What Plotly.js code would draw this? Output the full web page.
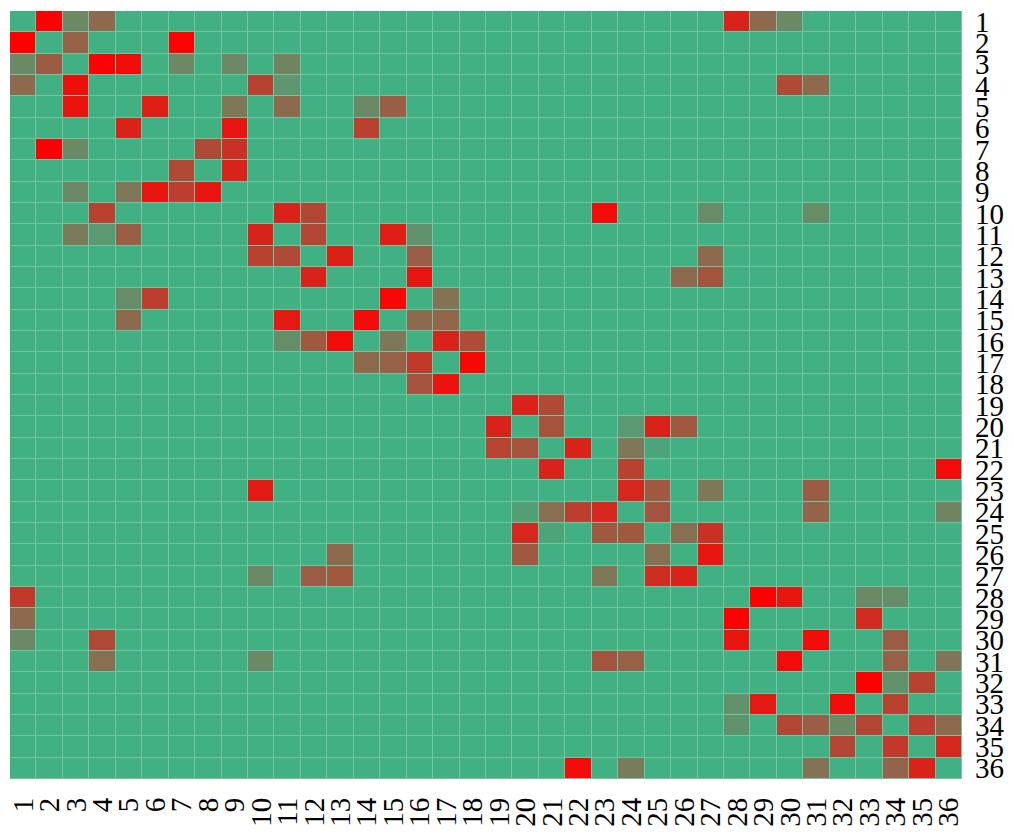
<!DOCTYPE html>
<html>
<head>
<meta charset="utf-8">
<script src="https://cdn.plot.ly/plotly-3.0.1.min.js"></script>
<style>html,body{margin:0;padding:0;background:#fff;}#chart{width:1014px;height:837px;}</style>
</head>
<body>
<div id="chart"></div>
<script>
// Node labels (rows and columns)
const labels = Array.from({length: 36}, (_, i) => String(i + 1));

// Non-zero cells: row label, column label, value (0..1)
const cellRow = [
  1,1,1,1,1,1,
  2,2,2,
  3,3,3,3,3,3,3,
  4,4,4,4,4,4,
  5,5,5,5,5,5,
  6,6,6,
  7,7,7,7,
  8,8,
  9,9,9,9,9,
  10,10,10,10,10,10,
  11,11,11,11,11,11,11,
  12,12,12,12,12,
  13,13,13,13,
  14,14,14,14,
  15,15,15,15,15,
  16,16,16,16,16,16,
  17,17,17,17,
  18,18,
  19,19,
  20,20,20,20,20,
  21,21,21,21,21,
  22,22,22,
  23,23,23,23,23,
  24,24,24,24,24,24,24,
  25,25,25,25,25,25,
  26,26,26,26,
  27,27,27,27,27,27,
  28,28,28,28,28,
  29,29,29,
  30,30,30,30,30,
  31,31,31,31,31,31,31,
  32,32,32,
  33,33,33,33,
  34,34,34,34,34,34,34,
  35,35,35,
  36,36,36,36,36
];
const cellCol = [
  2,3,4,28,29,30,
  1,3,7,
  1,2,4,5,7,9,11,
  1,3,10,11,30,31,
  3,6,9,11,14,15,
  5,9,14,
  2,3,8,9,
  7,9,
  3,5,6,7,8,
  4,11,12,23,27,31,
  3,4,5,10,12,15,16,
  10,11,13,16,27,
  12,16,26,27,
  5,6,15,17,
  5,11,14,16,17,
  11,12,13,15,17,18,
  14,15,16,18,
  16,17,
  20,21,
  19,21,24,25,26,
  19,20,22,24,25,
  21,24,36,
  10,24,25,27,31,
  20,21,22,23,25,31,36,
  20,21,23,24,26,27,
  13,20,25,27,
  10,12,13,23,25,26,
  1,29,30,33,34,
  1,28,33,
  1,4,28,31,34,
  4,10,23,24,30,34,36,
  33,34,35,
  28,29,32,34,
  28,30,31,32,33,35,36,
  32,34,36,
  22,24,31,34,35
];
const cellVal = [
  1.00,0.23,0.40,0.80,0.40,0.22,
  1.00,0.45,0.98,
  0.22,0.48,1.00,0.93,0.23,0.23,0.25,
  0.40,0.92,0.63,0.15,0.58,0.40,
  0.89,0.83,0.32,0.40,0.22,0.47,
  0.80,0.87,0.63,
  1.00,0.22,0.58,0.72,
  0.58,0.80,
  0.22,0.32,0.88,0.65,0.88,
  0.63,0.80,0.60,0.93,0.20,0.20,
  0.30,0.13,0.47,0.80,0.60,0.83,0.17,
  0.63,0.58,0.82,0.47,0.40,
  0.80,0.88,0.40,0.52,
  0.20,0.65,0.96,0.35,
  0.40,0.85,0.93,0.40,0.42,
  0.20,0.50,0.93,0.32,0.80,0.57,
  0.40,0.45,0.68,0.96,
  0.52,0.90,
  0.80,0.58,
  0.80,0.53,0.13,0.80,0.50,
  0.62,0.53,0.80,0.32,0.06,
  0.80,0.63,0.93,
  0.85,0.78,0.50,0.32,0.48,
  0.10,0.37,0.65,0.78,0.52,0.43,0.25,
  0.78,0.07,0.50,0.50,0.37,0.72,
  0.40,0.50,0.37,0.88,
  0.22,0.47,0.50,0.32,0.74,0.80,
  0.68,1.00,0.88,0.22,0.20,
  0.40,1.00,0.75,
  0.22,0.58,0.88,0.93,0.47,
  0.37,0.22,0.52,0.45,0.93,0.45,0.33,
  1.00,0.17,0.63,
  0.17,0.85,0.93,0.63,
  0.17,0.60,0.47,0.22,0.60,0.65,0.40,
  0.60,0.68,0.78,
  0.93,0.30,0.35,0.43,0.80
];

// Build the matrix (cells not listed are 0)
const z = labels.map(() => labels.map(() => 0));
for (let k = 0; k < cellVal.length; k++) {
  z[cellRow[k] - 1][cellCol[k] - 1] = cellVal[k];
}

const tickFont = {family: '"Liberation Serif", "DejaVu Serif", serif', size: 29, color: '#000'};

const trace = {
  type: 'heatmap',
  x: labels,
  y: labels,
  z: z,
  zmin: 0,
  zmax: 1,
  colorscale: [[0, 'rgb(65,176,130)'], [1, 'rgb(255,0,0)']],
  showscale: false,
  xgap: 1,
  ygap: 1,
  hoverinfo: 'none'
};

const layout = {
  width: 1014,
  height: 837,
  margin: {l: 10, r: 52, t: 11, b: 58, pad: 0},
  paper_bgcolor: '#ffffff',
  plot_bgcolor: 'rgb(118,196,162)',
  showlegend: false,
  xaxis: {
    type: 'category',
    tickmode: 'array',
    tickvals: labels,
    ticktext: labels,
    tickangle: -90,
    tickfont: tickFont,
    ticks: '',
    ticklabelstandoff: 12,
    showgrid: false,
    zeroline: false,
    showline: false,
    fixedrange: true
  },
  yaxis: {
    type: 'category',
    tickmode: 'array',
    tickvals: labels,
    ticktext: labels,
    side: 'right',
    autorange: 'reversed',
    tickfont: tickFont,
    ticks: '',
    ticklabelstandoff: 12,
    showgrid: false,
    zeroline: false,
    showline: false,
    fixedrange: true
  }
};

Plotly.newPlot('chart', [trace], layout, {displayModeBar: false, staticPlot: true});
</script>
</body>
</html>
